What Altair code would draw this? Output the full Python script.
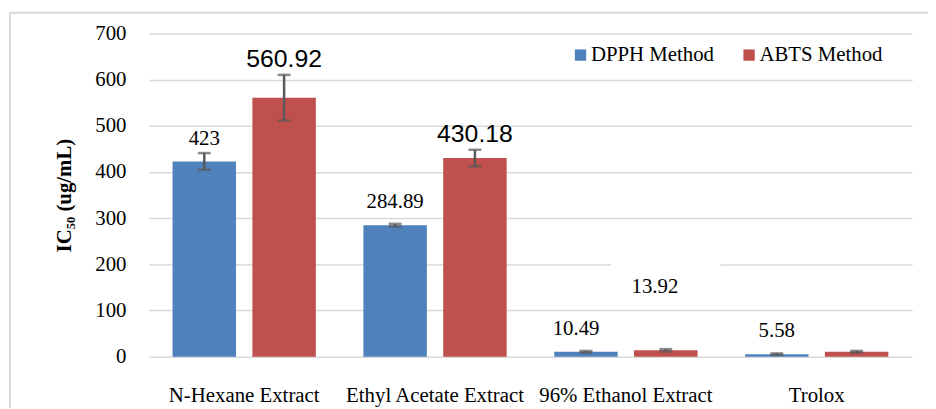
import altair as alt
import pandas as pd

categories = ["N-Hexane Extract", "Ethyl Acetate Extract", "96% Ethanol Extract", "Trolox"]
methods = ["DPPH Method", "ABTS Method"]
dpph_values = [423, 284.89, 10.49, 5.58]
abts_values = [560.92, 430.18, 13.92, 10.6]
dpph_errors = [18, 3, 2, 1.5]
abts_errors = [49.5, 18, 2.5, 2]
dpph_labels = ["423", "284.89", "10.49", "5.58"]
abts_labels = ["560.92", "430.18", "13.92", ""]
colors = ["#4F81BD", "#C0504D"]

rows = []
for i, c in enumerate(categories):
    for m, vals, errs, labs in [
        ("DPPH Method", dpph_values, dpph_errors, dpph_labels),
        ("ABTS Method", abts_values, abts_errors, abts_labels),
    ]:
        rows.append({
            "category": c, "method": m, "value": vals[i],
            "lo": vals[i] - errs[i], "hi": vals[i] + errs[i], "label": labs[i],
        })
df = pd.DataFrame(rows)

SERIF = "Liberation Serif"
SANS = "Liberation Sans"
YTITLE = "IC₅₀ (ug/mL)"

x_enc = alt.X("category:N", sort=categories, title=None,
              scale=alt.Scale(domain=categories, paddingInner=0, paddingOuter=0))
xo_enc = alt.XOffset("method:N", sort=methods,
                     scale=alt.Scale(domain=methods, paddingInner=0.205, paddingOuter=0.298))

y_scale = alt.Scale(domain=[0, 700], nice=False)


def yq(field):
    return alt.Y(field, type="quantitative", scale=y_scale, title=YTITLE)


bars = alt.Chart(df).mark_bar().encode(
    x=alt.X("category:N", sort=categories, title=None,
            scale=alt.Scale(domain=categories, paddingInner=0, paddingOuter=0),
            axis=alt.Axis(labelFont=SERIF, labelFontSize=21, labelColor="black",
                          labelAngle=0, labelBaseline="alphabetic", labelPadding=45,
                          labelLimit=0, ticks=False, domain=False, grid=False)),
    xOffset=xo_enc,
    y=alt.Y("value:Q", scale=y_scale, title=YTITLE,
            axis=alt.Axis(values=[0, 100, 200, 300, 400, 500, 600, 700],
                          labelFont=SERIF, labelFontSize=21, labelColor="black",
                          labelPadding=23, ticks=False, domain=False,
                          grid=True, gridColor="#D9D9D9", gridWidth=1.5,
                          titleFont=SERIF, titleFontSize=21, titleFontWeight="bold",
                          titleColor="black", titleX=-85, titleY=163, titleAngle=-90,
                          titleAlign="center", titleBaseline="middle")),
    color=alt.Color("method:N", sort=methods,
                    scale=alt.Scale(domain=methods, range=colors),
                    legend=alt.Legend(title=None, orient="none", legendX=425, legendY=11,
                                      direction="horizontal", symbolType="square",
                                      symbolSize=130, symbolStrokeWidth=0,
                                      labelFont=SERIF, labelFontSize=21, labelColor="black",
                                      labelOffset=0, columnPadding=24, padding=0)),
)

err_rule = alt.Chart(df).mark_rule(color="#595959", strokeWidth=2.5).encode(
    x=x_enc, xOffset=xo_enc, y=yq("lo"), y2="hi:Q",
)
cap_hi = alt.Chart(df).mark_tick(color="#595959", orient="horizontal", size=13, thickness=2.5).encode(
    x=x_enc, xOffset=xo_enc, y=yq("hi"),
)
cap_lo = alt.Chart(df).mark_tick(color="#595959", orient="horizontal", size=13, thickness=2.5).encode(
    x=x_enc, xOffset=xo_enc, y=yq("lo"),
)

df_dpph = df[df["method"] == "DPPH Method"]
df_dpph_main = df_dpph[df_dpph["category"] != "96% Ethanol Extract"]
df_dpph_eth = df_dpph[df_dpph["category"] == "96% Ethanol Extract"]
df_abts_big = df[(df["method"] == "ABTS Method")].iloc[0:2]
df_abts_small = df[(df["method"] == "ABTS Method")].iloc[2:3]

dpph_text = alt.Chart(df_dpph_main).mark_text(font=SERIF, fontSize=21, color="black", dy=-23).encode(
    x=x_enc, xOffset=xo_enc, y=yq("value"), text="label:N",
)
dpph_eth_text = alt.Chart(df_dpph_eth).mark_text(font=SERIF, fontSize=21, color="black", dy=-23, dx=-10).encode(
    x=x_enc, xOffset=xo_enc, y=yq("value"), text="label:N",
)
abts_text = alt.Chart(df_abts_big).mark_text(font=SANS, fontSize=25, color="black", dy=-16).encode(
    x=x_enc, xOffset=xo_enc, y=yq("hi"), text="label:N",
)
box = alt.Chart(df_abts_small).mark_rect(color="white", width=110, yOffset=-110, y2Offset=-57, xOffset=-4).encode(
    x=x_enc, xOffset=xo_enc, y=yq("hi"), y2="hi:Q",
)
abts_small_text = alt.Chart(df_abts_small).mark_text(font=SERIF, fontSize=21, color="black", dy=-63, dx=-11).encode(
    x=x_enc, xOffset=xo_enc, y=yq("hi"), text="label:N",
)

border_left = alt.Chart(df_dpph.iloc[0:1]).mark_rule(color="#D9D9D9", strokeWidth=2).encode(
    x=alt.value(-140), y=alt.value(-21), y2=alt.value(400),
)
border_top = alt.Chart(df_dpph.iloc[0:1]).mark_rule(color="#D9D9D9", strokeWidth=2).encode(
    x=alt.value(-140), x2=alt.value(800), y=alt.value(-21),
)

chart = alt.layer(
    bars, box, err_rule, cap_hi, cap_lo, dpph_text, dpph_eth_text, abts_text, abts_small_text,
    border_left, border_top,
).properties(
    width=770, height=326,
    autosize=alt.AutoSizeParams(type="none"),
    padding={"left": 142, "top": 24, "right": 16, "bottom": 50},
    background="white",
).configure_view(stroke=None)

chart.save("out.html", embed_options={"renderer": "svg", "actions": False})
